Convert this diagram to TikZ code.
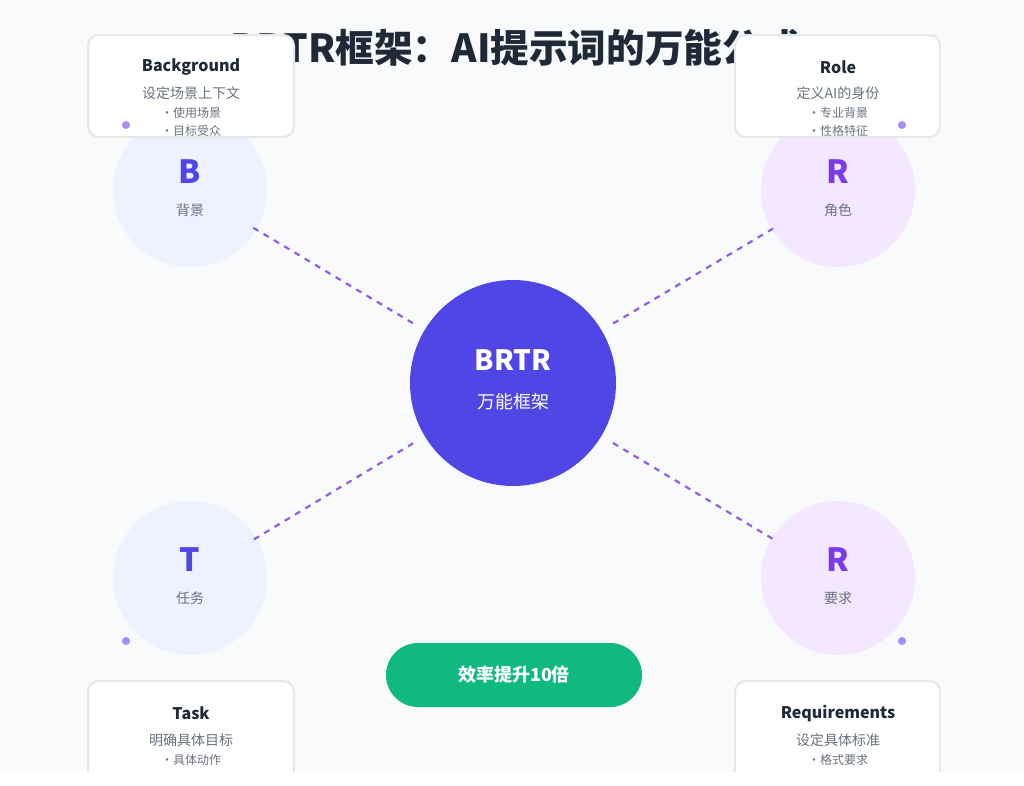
\documentclass[tikz,border=0pt]{standalone}
\usepackage{fontspec}
\setmainfont{Noto Sans CJK SC}
\definecolor{bgc}{HTML}{F8FAFC}
\definecolor{ink}{HTML}{1F2937}
\definecolor{gry}{HTML}{6B7280}
\definecolor{indi}{HTML}{4F46E5}
\definecolor{viol}{HTML}{7C3AED}
\definecolor{lind}{HTML}{EEF2FF}
\definecolor{lvio}{HTML}{F3E8FF}
\definecolor{grn}{HTML}{10B981}
\definecolor{dotc}{HTML}{A78BFA}
\definecolor{bord}{HTML}{E5E7EB}
\tikzset{
 card/.style={draw=bord,line width=1.5pt,fill=white,rounded corners=8pt},
 link/.style={draw=viol!85,dash pattern=on 4.5pt off 4.5pt,line width=1.6pt,shorten <=10pt,shorten >=-3pt},
}
\begin{document}
\begin{tikzpicture}[x=0.75pt,y=-0.75pt]
\useasboundingbox (0,0) rectangle (1024,785);
\fill[white] (0,0) rectangle (1024,785);
\begin{scope}
\clip (0,0) rectangle (1024,771);
\fill[bgc] (0,0) rectangle (1024,771);
\node[text=ink,font=\bfseries\fontsize{29}{29}\selectfont] (title) at (515,48) {BRTR框架：AI提示词的万能公式};
\node[circle,fill=lind,minimum size=115.5pt,inner sep=0] (cb) at (190,190) {};
\node[circle,fill=lvio,minimum size=115.5pt,inner sep=0] (cr) at (838,190) {};
\node[circle,fill=lind,minimum size=115.5pt,inner sep=0] (ct) at (190,578) {};
\node[circle,fill=lvio,minimum size=115.5pt,inner sep=0] (cq) at (838,578) {};
\node[circle,fill=indi,minimum size=154.5pt,inner sep=0] (cc) at (513,383) {};
\node[text=indi,font=\bfseries\fontsize{24}{24}\selectfont] (lb) at (190,172) {B};
\node[text=gry,font=\fontsize{10.5}{10.5}\selectfont] (sb) at (190,210) {背景};
\node[text=viol,font=\bfseries\fontsize{24}{24}\selectfont] (lr) at (838,172) {R};
\node[text=gry,font=\fontsize{10.5}{10.5}\selectfont] (sr) at (838,210) {角色};
\node[text=indi,font=\bfseries\fontsize{24}{24}\selectfont] (lt) at (190,560) {T};
\node[text=gry,font=\fontsize{10.5}{10.5}\selectfont] (st) at (190,598) {任务};
\node[text=viol,font=\bfseries\fontsize{24}{24}\selectfont] (lq) at (838,560) {R};
\node[text=gry,font=\fontsize{10.5}{10.5}\selectfont] (sq) at (838,598) {要求};
\node[text=white,font=\bfseries\fontsize{21}{21}\selectfont] (lc) at (513,360) {BRTR};
\node[text=white,font=\fontsize{13.5}{13.5}\selectfont] (sc) at (513,402) {万能框架};
\draw[link] (cc) -- (cb);
\draw[link] (cc) -- (cr);
\draw[link] (cc) -- (ct);
\draw[link] (cc) -- (cq);
\draw[card] (88,35) rectangle (294,137);
\node[text=ink,font=\bfseries\fontsize{12}{12}\selectfont] (tb) at (191,67) {Background};
\node[text=gry,font=\fontsize{10.5}{10.5}\selectfont] (ub) at (191,93) {设定场景上下文};
\node[text=gry,font=\fontsize{9}{9}\selectfont] (vb) at (191,113) {•使用场景};
\node[text=gry,font=\fontsize{9}{9}\selectfont] (wb) at (191,131) {•目标受众};
\draw[card] (735,35) rectangle (940,137);
\node[text=ink,font=\bfseries\fontsize{12}{12}\selectfont] (tr) at (838,67) {Role};
\node[text=gry,font=\fontsize{10.5}{10.5}\selectfont] (ur) at (838,93) {定义AI的身份};
\node[text=gry,font=\fontsize{9}{9}\selectfont] (vr) at (838,113) {•专业背景};
\node[text=gry,font=\fontsize{9}{9}\selectfont] (wr) at (838,131) {•性格特征};
\draw[card] (88,681) rectangle (294,790);
\node[text=ink,font=\bfseries\fontsize{12}{12}\selectfont] (tt) at (191,713) {Task};
\node[text=gry,font=\fontsize{10.5}{10.5}\selectfont] (ut) at (191,740) {明确具体目标};
\node[text=gry,font=\fontsize{9}{9}\selectfont] (vt) at (191,760) {•具体动作};
\draw[card] (735,681) rectangle (940,790);
\node[text=ink,font=\bfseries\fontsize{12}{12}\selectfont] (tq) at (838,713) {Requirements};
\node[text=gry,font=\fontsize{10.5}{10.5}\selectfont] (uq) at (838,740) {设定具体标准};
\node[text=gry,font=\fontsize{9}{9}\selectfont] (vq) at (838,760) {•格式要求};
\foreach \p in {(126,125),(902,125),(126,641),(902,641)}
  \fill[dotc] \p circle (3pt);
\fill[grn,rounded corners=24pt] (386,643) rectangle (642,707);
\node[text=white,font=\bfseries\fontsize{13.5}{13.5}\selectfont] (pill) at (514,675) {效率提升10倍};
\end{scope}
\end{tikzpicture}
\end{document}
